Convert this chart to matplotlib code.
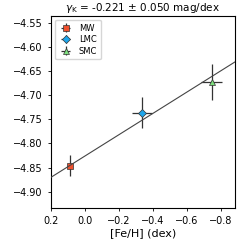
import numpy as np
import matplotlib
matplotlib.use('Agg')
import matplotlib.pyplot as plt

# data
galaxies = ['MW', 'LMC', 'SMC']
feh = [0.09, -0.335, -0.745]
feh_err = [0.015, 0.06, 0.06]
mag = [-4.846, -4.736, -4.672]
mag_err = [0.021, 0.033, 0.037]
markers = ['s', 'D', '^']
colors = ['#f0502d', '#1ea6ec', '#7ee07e']
marker_sizes = [4, 4, 5]

slope = -0.221
slope_err = 0.050
intercept = -4.826

fig = plt.figure(figsize=[2.4, 2.4], dpi=100)
ax = fig.add_axes([0.2125, 0.133, 0.765, 0.802])

for i in range(len(galaxies)):
    ax.errorbar(feh[i], mag[i], xerr=feh_err[i], yerr=mag_err[i], fmt=markers[i],
                color='#333333', ecolor='#333333', elinewidth=0.9, capsize=0,
                markerfacecolor=colors[i], markeredgecolor='#333333',
                markeredgewidth=0.5, markersize=marker_sizes[i], label=galaxies[i])

xx = np.array([0.2, -0.9])
ax.plot(xx, intercept + slope * xx, color='#444444', linewidth=0.8, zorder=5)

ax.set_xlim(0.2, -0.88)
ax.set_ylim(-4.934, -4.535)
ax.set_xticks([0.2, 0.0, -0.2, -0.4, -0.6, -0.8])
ax.set_yticks([-4.90, -4.85, -4.80, -4.75, -4.70, -4.65, -4.60, -4.55])
ax.tick_params(labelsize=7, length=2.5, width=0.6)
for s in ax.spines.values():
    s.set_linewidth(0.8)
ax.set_xlabel('[Fe/H] (dex)', fontsize=8, labelpad=1)
ax.set_title(r'$\gamma_{\rm K}$ = -0.221 $\pm$ ' + '%.3f mag/dex' % slope_err,
             fontsize=7.5, pad=3)
ax.legend(loc='upper left', fontsize=6, handletextpad=0.8, borderpad=0.45,
          labelspacing=0.3, handlelength=1.6)

plt.savefig('out.png', dpi=100)
